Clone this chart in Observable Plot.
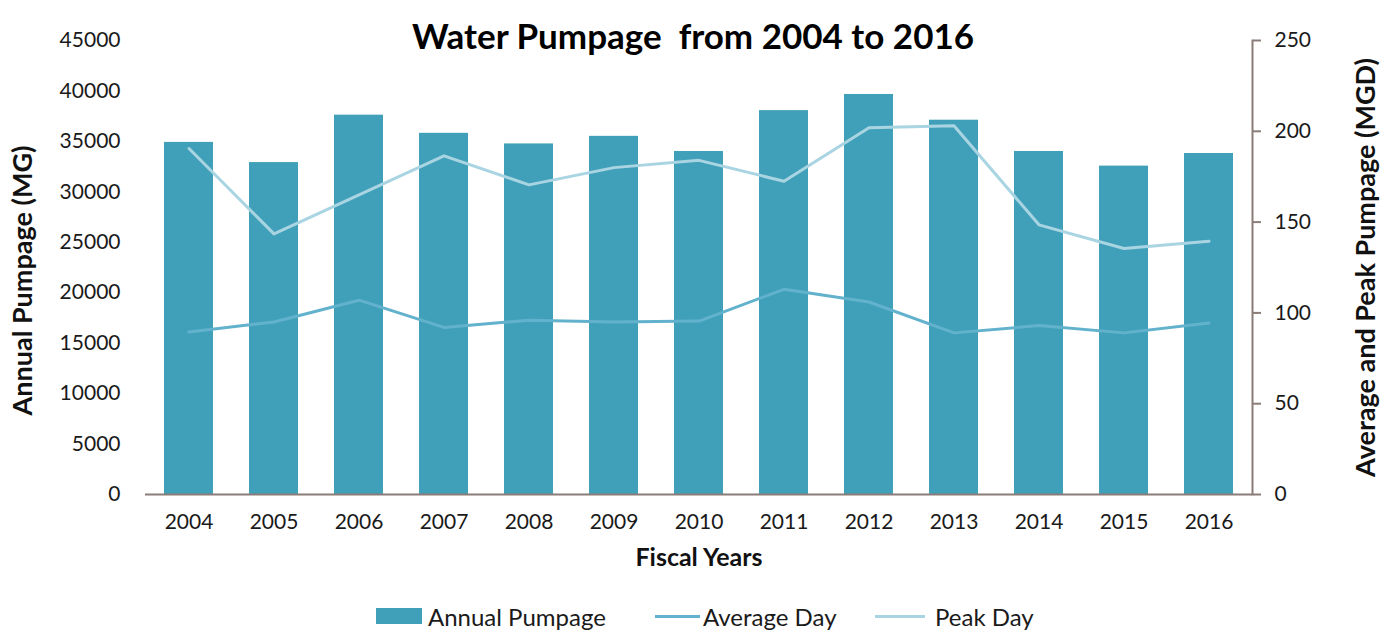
<!DOCTYPE html>
<html>
<head>
<meta charset="utf-8">
<script src="https://cdn.jsdelivr.net/npm/d3@7"></script>
<script src="https://cdn.jsdelivr.net/npm/@observablehq/plot@0.6"></script>
<style>
  html, body { margin: 0; padding: 0; background: #fff; }
  body { width: 1389px; height: 637px; overflow: hidden; font-family: Lato, "Open Sans", sans-serif; }
  #legend { position: relative; height: 42px; font-size: 24px; color: #1a1a1a; }
  .item { position: absolute; top: 0; height: 42px; display: flex; align-items: center; white-space: nowrap; }
  .sw-bar { width: 46px; height: 16px; margin-right: 6px; }
  .sw-line { height: 3px; }
</style>
</head>
<body>
<div id="chart"></div>
<div id="legend"></div>
<script>
// Fiscal years on the category axis
const years = ["2004","2005","2006","2007","2008","2009","2010","2011","2012","2013","2014","2015","2016"];
// Annual pumpage, million gallons (left axis)
const annualMG = [34900, 32900, 37600, 35800, 34750, 35500, 34000, 38050, 39650, 37100, 34000, 32550, 33800];
// Average-day and peak-day pumpage, million gallons per day (right axis)
const averageMGD = [89.5, 95, 107, 92, 96, 95, 95.5, 113, 106, 89, 93, 89, 94.5];
const peakMGD = [190.5, 143.5, 165, 186.5, 170.5, 180, 184, 172.5, 202, 203, 148.5, 135.5, 139.5];
// Axis ticks
const leftTicks = d3.range(0, 45001, 5000);
const rightTicks = [0, 50, 100, 150, 200, 250];

const BAR = "#41a0b9", AVG = "#62b2cd", PEAK = "#a9d4e2", AXIS = "#8a7d78";
// Right axis (0–250 MGD) shares the left scale (0–45000 MG)
const k = 45000 / 250;

const rows = years.map((year, i) => ({year, annual: annualMG[i], avg: averageMGD[i], peak: peakMGD[i]}));

const chart = Plot.plot({
  width: 1389,
  height: 595,
  marginTop: 40,
  marginBottom: 101,
  marginLeft: 145,
  marginRight: 137,
  style: {fontFamily: "Lato, 'Open Sans', sans-serif", fontSize: "21px", color: "#1a1a1a", background: "#fff", overflow: "visible"},
  x: {type: "band", domain: years, paddingInner: 0.42, paddingOuter: 0.21, label: null},
  y: {domain: [0, 45000], label: null},
  marks: [
    Plot.barY(rows, {x: "year", y: "annual", fill: BAR}),
    Plot.ruleY([0], {stroke: AXIS, strokeWidth: 2}),
    Plot.frame({anchor: "right", stroke: AXIS, strokeWidth: 2}),
    Plot.lineY(rows, {x: "year", y: d => d.peak * k, stroke: PEAK, strokeWidth: 3}),
    Plot.lineY(rows, {x: "year", y: d => d.avg * k, stroke: AVG, strokeWidth: 3}),
    Plot.axisY(leftTicks, {anchor: "left", tickSize: 0, tickPadding: 25, tickFormat: d => String(d), label: null}),
    Plot.axisY(rightTicks.map(v => v * k), {anchor: "right", tickSize: 8, tickPadding: 14, stroke: AXIS, strokeWidth: 2, tickFormat: d => String(Math.round(d / k)), label: null}),
    Plot.axisX({tickSize: 0, tickPadding: 20, label: null}),
    Plot.text(["Water Pumpage\u00a0 from 2004 to 2016"], {frameAnchor: "top", dy: -16, dx: -6, fontSize: 35, fontWeight: "bold", fill: "#000"}),
    Plot.text(["Fiscal Years"], {frameAnchor: "bottom", dy: 71, fontSize: 25, fontWeight: "bold", fill: "#111"}),
    Plot.text(["Annual Pumpage (MG)"], {frameAnchor: "left", dx: -122, dy: 13, rotate: -90, textAnchor: "middle", fontSize: 27, fontWeight: "bold", fill: "#111"}),
    Plot.text(["Average and Peak Pumpage (MGD)"], {frameAnchor: "right", dx: 114, rotate: -90, textAnchor: "middle", fontSize: 27, fontWeight: "bold", fill: "#111"})
  ]
});
document.getElementById("chart").appendChild(chart);

// Legend below the plot
const legend = document.getElementById("legend");
const items = [
  {label: "Annual Pumpage", kind: "bar", color: BAR, left: 376, gap: 6},
  {label: "Average Day", kind: "line", color: AVG, left: 655, w: 45, gap: 3},
  {label: "Peak Day", kind: "line", color: PEAK, left: 875, w: 50, gap: 10}
];
for (const it of items) {
  const div = document.createElement("div");
  div.className = "item";
  div.style.left = it.left + "px";
  const sw = document.createElement("div");
  sw.className = it.kind === "bar" ? "sw-bar" : "sw-line";
  sw.style.background = it.color;
  sw.style.marginRight = it.gap + "px";
  if (it.w) sw.style.width = it.w + "px";
  const t = document.createElement("span");
  t.textContent = it.label;
  div.append(sw, t);
  legend.appendChild(div);
}
</script>
</body>
</html>
